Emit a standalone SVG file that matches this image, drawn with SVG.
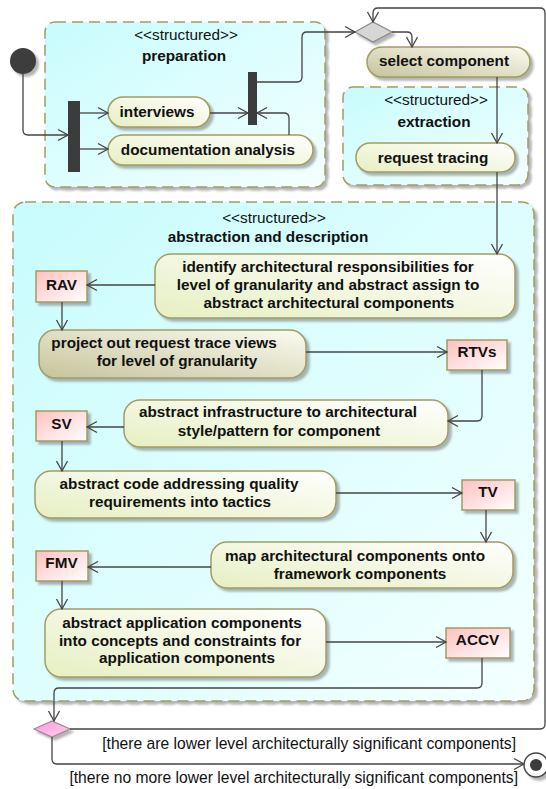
<svg xmlns="http://www.w3.org/2000/svg" width="546" height="789" viewBox="0 0 546 789">
<defs>
<linearGradient id="gCont" x1="0" y1="0" x2="1" y2="1"><stop offset="0" stop-color="#c8fcfd"/><stop offset="1" stop-color="#f4ffff"/></linearGradient>
<linearGradient id="gAct" x1="0" y1="1" x2="1" y2="0"><stop offset="0" stop-color="#e6efc2"/><stop offset="1" stop-color="#ffffff"/></linearGradient>
<linearGradient id="gDark" x1="0" y1="1" x2="1" y2="0"><stop offset="0" stop-color="#c6c49a"/><stop offset="1" stop-color="#fbfbf2"/></linearGradient>
<linearGradient id="gObj" x1="0" y1="0" x2="1" y2="1"><stop offset="0" stop-color="#ffc0c0"/><stop offset="1" stop-color="#ffffff"/></linearGradient>
<linearGradient id="gPink" x1="0" y1="0" x2="1" y2="1"><stop offset="0" stop-color="#ff99dd"/><stop offset="1" stop-color="#ffd0f0"/></linearGradient>
<filter id="sh" x="-10%" y="-10%" width="130%" height="140%"><feDropShadow dx="3" dy="3" stdDeviation="1" flood-color="#777" flood-opacity="0.55"/></filter>
<marker id="arr" markerUnits="userSpaceOnUse" markerWidth="14" markerHeight="14" viewBox="0 0 14 14" refX="12" refY="7" orient="auto"><path d="M2,1.5 L12,7 L2,12.5" fill="none" stroke="#444" stroke-width="1.3"/></marker>
</defs>
<style>
.cont{fill:url(#gCont);stroke:#a29c62;stroke-width:1.5;stroke-dasharray:11,6;filter:url(#sh)}
.act{fill:url(#gAct);stroke:#a29c62;stroke-width:1.5;filter:url(#sh)}
.dark{fill:url(#gDark);stroke:#a29c62;stroke-width:1.5;filter:url(#sh)}
.obj{fill:url(#gObj);stroke:#a29c62;stroke-width:1.5;filter:url(#sh)}
.bar{fill:#3c3c3c}
.t{font-family:"Liberation Sans",Arial,sans-serif;font-size:15.3px;fill:#111;text-anchor:middle}
.b{font-weight:bold}
.g{font-family:"Liberation Sans",Arial,sans-serif;font-size:15.65px;fill:#111;text-anchor:end}
.c{fill:none;stroke:#444;stroke-width:1.3}
</style>
<rect width="546" height="789" fill="#ffffff"/>

<g id="preparation">
<rect class="cont" x="45" y="22" width="280" height="165" rx="10"/>
<text class="t" x="186" y="40">&lt;&lt;structured&gt;&gt;</text>
<text class="t b" x="184" y="61">preparation</text>
</g>
<g id="extraction">
<rect class="cont" x="343" y="87" width="185" height="98" rx="10"/>
<text class="t" x="436" y="105">&lt;&lt;structured&gt;&gt;</text>
<text class="t b" x="434" y="127">extraction</text>
</g>
<g id="abstraction">
<rect class="cont" x="13" y="202" width="521" height="499" rx="12"/>
<text class="t" x="274" y="223">&lt;&lt;structured&gt;&gt;</text>
<text class="t b" x="268" y="242">abstraction and description</text>
</g>

<g id="initial"><circle cx="23" cy="61" r="13" fill="#3c3c3c" filter="url(#sh)"/></g>
<g id="fork"><rect class="bar" x="68" y="101" width="12" height="71"/></g>
<g id="join"><rect class="bar" x="248" y="72" width="9" height="53"/></g>

<g id="interviews"><rect class="act" x="108" y="97" width="102" height="30" rx="15"/><text class="t b" x="157" y="117">interviews</text></g>
<g id="documentation"><rect class="act" x="108" y="135" width="205" height="30" rx="15"/><text class="t b" x="208" y="155">documentation analysis</text></g>
<g id="select"><rect class="dark" x="367" y="47" width="163" height="30" rx="15"/><text class="t b" x="444" y="66">select component</text></g>
<g id="request"><rect class="act" x="356" y="143" width="159" height="29" rx="14"/><text class="t b" x="433" y="163">request tracing</text></g>

<g id="identify"><rect class="act" x="155" y="254" width="360" height="64" rx="16"/>
<text class="t b" x="328" y="272">identify architectural responsibilities for</text>
<text class="t b" x="328" y="290">level of granularity and abstract assign to</text>
<text class="t b" x="329" y="308">abstract architectural components</text></g>
<g id="project"><rect class="dark" x="39" y="330" width="267" height="48" rx="16"/>
<text class="t b" x="164" y="348">project out request trace views</text>
<text class="t b" x="177" y="366">for level of granularity</text></g>
<g id="infrastructure"><rect class="act" x="124" y="400" width="324" height="47" rx="16"/>
<text class="t b" x="278" y="417">abstract infrastructure to architectural</text>
<text class="t b" x="279" y="436">style/pattern for component</text></g>
<g id="code"><rect class="act" x="35" y="471" width="301" height="47" rx="16"/>
<text class="t b" x="179" y="489">abstract code addressing quality</text>
<text class="t b" x="180" y="507">requirements into tactics</text></g>
<g id="map"><rect class="act" x="211" y="542" width="302" height="46" rx="16"/>
<text class="t b" x="355" y="561">map architectural components onto</text>
<text class="t b" x="360" y="579">framework components</text></g>
<g id="application"><rect class="act" x="45" y="609" width="281" height="68" rx="16"/>
<text class="t b" x="182" y="628">abstract application components</text>
<text class="t b" x="180" y="646">into concepts and constraints for</text>
<text class="t b" x="187" y="663">application components</text></g>

<g id="RAV"><rect class="obj" x="36" y="271" width="51" height="31"/><text class="t b" x="61.5" y="290">RAV</text></g>
<g id="RTVs"><rect class="obj" x="447" y="340" width="60" height="30"/><text class="t b" x="477" y="357">RTVs</text></g>
<g id="SV"><rect class="obj" x="36" y="411" width="51" height="30"/><text class="t b" x="61.5" y="429">SV</text></g>
<g id="TV"><rect class="obj" x="462" y="480" width="53" height="30"/><text class="t b" x="488" y="497">TV</text></g>
<g id="FMV"><rect class="obj" x="36" y="551" width="52" height="30"/><text class="t b" x="61.5" y="568">FMV</text></g>
<g id="ACCV"><rect class="obj" x="446" y="628" width="64" height="30"/><text class="t b" x="477.5" y="645">ACCV</text></g>

<g id="decision1"><polygon points="355,32 373,22 392,32 373,42" fill="#d6d6d6" stroke="#8a8a80" stroke-width="1.2" filter="url(#sh)"/></g>
<g id="decision2"><polygon points="34,729 52,721 70,729 52,737" fill="url(#gPink)" stroke="#a08a90" stroke-width="1.2" filter="url(#sh)"/></g>
<g id="final"><circle cx="536" cy="765" r="12" fill="#fff" stroke="#444" stroke-width="1.4" filter="url(#sh)"/><circle cx="536" cy="765" r="6" fill="#3c3c3c"/></g>

<g id="connectors">
<path class="c" marker-end="url(#arr)" d="M23,74 V130 Q23,135 28,135 H68"/>
<path class="c" marker-end="url(#arr)" d="M80,113 H108"/>
<path class="c" marker-end="url(#arr)" d="M80,149 H108"/>
<path class="c" marker-end="url(#arr)" d="M210,113 H248"/>
<path class="c" marker-end="url(#arr)" d="M289,135 V118 Q289,113 284,113 H257"/>
<path class="c" marker-end="url(#arr)" d="M257,82 H297 Q302,82 302,77 V37 Q302,32 307,32 H355"/>
<path class="c" marker-end="url(#arr)" d="M392,32 H407 Q412,32 412,37 V47"/>
<path class="c" marker-end="url(#arr)" d="M497,77 V143"/>
<path class="c" marker-end="url(#arr)" d="M497,172 V254"/>
<path class="c" marker-end="url(#arr)" d="M155,285 H87"/>
<path class="c" marker-end="url(#arr)" d="M62,302 V330"/>
<path class="c" marker-end="url(#arr)" d="M306,352 H447"/>
<path class="c" marker-end="url(#arr)" d="M482,370 V416 Q482,421 477,421 H448"/>
<path class="c" marker-end="url(#arr)" d="M124,427 H87"/>
<path class="c" marker-end="url(#arr)" d="M62,441 V471"/>
<path class="c" marker-end="url(#arr)" d="M336,493 H462"/>
<path class="c" marker-end="url(#arr)" d="M486,510 V542"/>
<path class="c" marker-end="url(#arr)" d="M211,567 H88"/>
<path class="c" marker-end="url(#arr)" d="M62,581 V609"/>
<path class="c" marker-end="url(#arr)" d="M326,642 H446"/>
<path class="c" marker-end="url(#arr)" d="M482,658 V683 Q482,688 477,688 H59 Q54,688 54,693 V721"/>
<path class="c" marker-end="url(#arr)" d="M70,729 H540 Q545,729 545,724 V13 Q545,8 540,8 H378 Q373,8 373,13 V22"/>
<path class="c" marker-end="url(#arr)" d="M52,737 V759 Q52,764 57,764 H524"/>
<text class="g" x="516" y="749">[there are lower level architecturally significant components]</text>
<text class="g" x="518" y="783">[there no more lower level architecturally significant components]</text>
</g>
</svg>
